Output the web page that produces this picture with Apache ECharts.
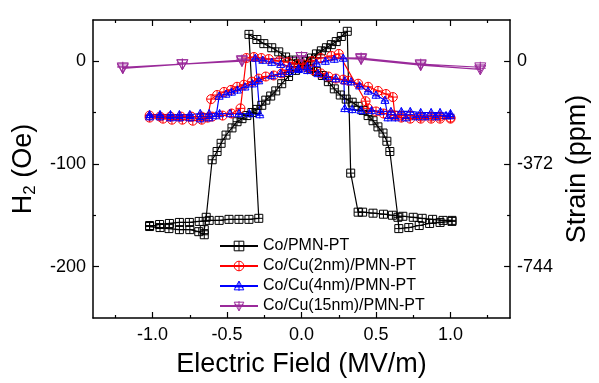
<!DOCTYPE html>
<html>
<head>
<meta charset="utf-8">
<script src="https://cdn.jsdelivr.net/npm/echarts@6/dist/echarts.min.js"></script>
<style>
  html, body { margin: 0; padding: 0; background: #fff; }
  #chart { width: 599px; height: 383px; }
</style>
</head>
<body>
<div id="chart"></div>
<script>
// H2 (Oe) against electric field (MV/m), in sweep order
const coE = [1.01, 0.95, 0.88, 0.81, 0.75, 0.68, 0.61, 0.55, 0.48, 0.41, 0.38, 0.33,
  0.307, 0.267, 0.233, 0.2, 0.167, 0.133, 0.1, 0.067, 0.033, 0, -0.04, -0.087, -0.133, -0.173, -0.207, -0.24, -0.267, -0.3, -0.333, -0.367, -0.4, -0.433, -0.467, -0.507, -0.54, -0.567, -0.6,
  -0.64, -0.653, -0.653, -0.69, -0.75, -0.82, -0.89, -0.95, -1.02,
  -1.02, -0.953, -0.887, -0.82, -0.753, -0.687, -0.62, -0.553, -0.487, -0.42, -0.353, -0.287,
  -0.353, -0.3, -0.253, -0.2, -0.153, -0.107, -0.06, -0.02, 0.02, 0.06, 0.1, 0.14, 0.18, 0.22, 0.26, 0.3, 0.34, 0.38, 0.413, 0.447, 0.48, 0.513, 0.547, 0.573, 0.593,
  0.647, 0.653, 0.72, 0.79, 0.86, 0.93, 1.01];
const coH = [-155, -155, -154, -153, -152, -151, -150, -149, -148, -147, -147, -109,
  29, 24, 19, 16, 13, 10, 7, 3, 0, -3, -9, -15, -22, -29, -34, -38, -43, -47, -50, -53, -56, -59, -65, -72, -80, -88, -96,
  -152, -164, -169, -166, -164, -164, -163, -162, -161,
  -160, -159, -158, -157, -157, -156, -155, -155, -154, -154, -154, -153,
  26, 21, 17, 13, 9, 4, 1, -2, -4, -7, -10, -14, -20, -27, -33, -37, -40, -44, -48, -53, -58, -64, -70, -78, -88,
  -152, -163, -162, -160, -158, -157, -156];

const cu2E = [1.0, 0.93, 0.87, 0.8, 0.73, 0.67, 0.6, 0.55, 0.5, 0.447, 0.43,
  0.25, 0.2, 0.13, 0.07, 0.01, -0.05, -0.1, -0.133, -0.187, -0.24, -0.287, -0.333, -0.387, -0.433, -0.473, -0.52, -0.567, -0.607,
  -0.63, -0.67, -0.73, -0.8, -0.87, -0.93, -1.02,
  -1.02, -0.95, -0.88, -0.81, -0.74, -0.67, -0.6, -0.53, -0.47, -0.41,
  -0.37, -0.32, -0.27, -0.22, -0.15, -0.09, -0.02, 0.03, 0.08, 0.13, 0.18, 0.23, 0.28, 0.313, 0.38, 0.447, 0.513, 0.567, 0.613,
  0.627, 0.67, 0.73, 0.8, 0.87, 0.93, 1.0];
const cu2H = [-55, -54, -54, -54, -53, -53, -52, -51, -49, -46, -39,
  7, 5, 3, 0, -3, -6, -9, -12, -14, -15, -17, -20, -23, -25, -28, -30, -33, -37,
  -55, -57, -58, -57, -57, -56, -55,
  -53, -54, -54, -54, -54, -54, -54, -53, -51, -46,
  3, 4, 3, 2, 0, -1, -3, -6, -9, -12, -15, -17, -18, -19, -22, -25, -29, -32, -35,
  -53, -55, -56, -56, -56, -56, -56];

const cu4E = [1.0, 0.93, 0.87, 0.8, 0.73, 0.67, 0.6, 0.53, 0.47, 0.4, 0.34, 0.29,
  0.28, 0.22, 0.16, 0.1, 0.04, -0.02, -0.08, -0.14, -0.2, -0.287, -0.33, -0.38, -0.43, -0.47, -0.507, -0.553,
  -0.573, -0.62, -0.68, -0.75, -0.82, -0.88, -0.95, -1.02,
  -1.02, -0.95, -0.88, -0.82, -0.75, -0.68, -0.62, -0.55, -0.48, -0.42, -0.35, -0.28,
  -0.31, -0.26, -0.2, -0.14, -0.08, -0.02, 0.04, 0.11, 0.17, 0.23, 0.29, 0.333, 0.39, 0.447, 0.5, 0.56,
  0.58, 0.63, 0.7, 0.77, 0.83, 0.9, 0.97, 1.0];
const cu4H = [-51, -50, -50, -50, -49, -49, -49, -49, -48, -48, -47, -46,
  3, 2, 0, -2, -5, -8, -10, -12, -14, -19, -22, -25, -28, -30, -32, -34,
  -53, -55, -56, -55, -55, -55, -54, -54,
  -52, -52, -52, -52, -52, -51, -51, -51, -51, -51, -51, -52,
  3, 1, -1, -3, -5, -7, -9, -12, -15, -17, -19, -20, -24, -29, -33, -38,
  -55, -55, -55, -54, -54, -54, -53, -53];

const cu15E = [-1.2, -0.8, -0.4, 0, 0.4, 0.8, 1.2, 1.2, 0.8, 0.4, 0, -0.4, -0.8, -1.2];
const cu15H = [-6, -3, 0, 4, 3, -3, -6, -8, -4, 2, 4, 1, -3, -7];

const seriesNames = ['Co/PMN-PT', 'Co/Cu(2nm)/PMN-PT', 'Co/Cu(4nm)/PMN-PT', 'Co/Cu(15nm)/PMN-PT'];
const seriesColors = ['#000000', '#ff0000', '#0000ff', '#9a2a9a'];

const xTicks = [-1.0, -0.5, 0, 0.5, 1.0];
const xMinorTicks = [-1.25, -0.75, -0.25, 0.25, 0.75, 1.25];
const leftTicks = [0, -100, -200];
const leftMinorTicks = [-50, -150];
const rightTicks = [0, -372, -744];
const rightMinorTicks = [-186, -558];

const font = 'Liberation Sans, Arial, sans-serif';

// hollow markers with a cross inside, like the origin plot
const SQUARE = 'path://M0,0L10,0L10,10L0,10Z M5,0L5,10 M0,5L10,5';
const CIRCLE = 'path://M0,5A5,5,0,1,1,10,5A5,5,0,1,1,0,5Z M5,0L5,10 M0,5L10,5';
const TRI = 'path://M5,0L10,9L0,9Z M5,0L5,10 M0,6L10,6';
const TRI_DOWN = 'path://M0,1L10,1L5,10Z M5,0L5,10 M0,4L10,4';

const pts = (e, h) => e.map((v, i) => [v, h[i]]);
const hollow = (c) => ({ color: 'rgba(0,0,0,0)', borderColor: c, borderWidth: 1 });

function line(name, data, color, symbol, size) {
  return {
    name,
    type: 'line',
    data,
    symbol,
    symbolSize: size,
    lineStyle: { color, width: 1.2 },
    itemStyle: hollow(color),
    emphasis: { disabled: true },
  };
}

function tickAxis(extra) {
  return Object.assign({
    type: 'value',
    axisLine: { show: false, onZero: false },
    axisLabel: { show: false },
    splitLine: { show: false },
  }, extra);
}

const chart = echarts.init(document.getElementById('chart'));
chart.setOption({
  animation: false,
  backgroundColor: '#fff',
  grid: { left: 93, right: 86, top: 20, bottom: 60 },
  legend: {
    orient: 'vertical',
    left: 219,
    top: 238,
    padding: 0,
    itemWidth: 38,
    itemHeight: 12,
    itemGap: 4,
    textStyle: { fontSize: 16, fontFamily: font, color: '#000' },
    data: seriesNames.map((n, i) => ({ name: n, itemStyle: hollow(seriesColors[i]) })),
  },
  xAxis: [
    {
      type: 'value', position: 'bottom', min: -1.4, max: 1.4,
      name: 'Electric Field (MV/m)', nameLocation: 'middle', nameGap: 33,
      nameTextStyle: { fontSize: 27, fontFamily: font, color: '#000' },
      axisLine: { onZero: false, lineStyle: { color: '#000', width: 1.5 } },
      axisTick: { inside: true, length: 6, customValues: xTicks, lineStyle: { color: '#000', width: 1.2 } },
      axisLabel: { customValues: xTicks, formatter: (v) => v.toFixed(1), fontSize: 18, fontFamily: font, color: '#000', margin: 8 },
      splitLine: { show: false },
    },
    tickAxis({ position: 'bottom', min: -1.4, max: 1.4,
      axisTick: { inside: true, length: 3, customValues: xMinorTicks, lineStyle: { color: '#000', width: 1.2 } } }),
    tickAxis({ position: 'top', min: -1.4, max: 1.4,
      axisLine: { show: true, onZero: false, lineStyle: { color: '#000', width: 1.5 } },
      axisTick: { inside: true, length: 6, customValues: xTicks, lineStyle: { color: '#000', width: 1.2 } } }),
    tickAxis({ position: 'top', min: -1.4, max: 1.4,
      axisTick: { inside: true, length: 3, customValues: xMinorTicks, lineStyle: { color: '#000', width: 1.2 } } }),
  ],
  yAxis: [
    {
      type: 'value', position: 'left', min: -250, max: 40,
      name: '{a|H}{s|2}{a| (Oe)}', nameLocation: 'middle', nameGap: 35, nameRotate: 90,
      nameTextStyle: {
        color: '#000', fontFamily: font,
        rich: { a: { fontSize: 27, fontFamily: font }, s: { fontSize: 17, fontFamily: font, padding: [14, 0, 0, 0] } },
      },
      axisLine: { onZero: false, lineStyle: { color: '#000', width: 1.5 } },
      axisTick: { inside: true, length: 6, customValues: leftTicks, lineStyle: { color: '#000', width: 1.2 } },
      axisLabel: { customValues: leftTicks, fontSize: 18, fontFamily: font, color: '#000', margin: 7 },
      splitLine: { show: false },
    },
    tickAxis({ position: 'left', min: -250, max: 40,
      axisTick: { inside: true, length: 3, customValues: leftMinorTicks, lineStyle: { color: '#000', width: 1.2 } } }),
    {
      type: 'value', position: 'right', min: -930, max: 148.8,
      name: 'Strain (ppm)', nameLocation: 'middle', nameGap: 52, nameRotate: 90,
      nameTextStyle: { fontSize: 27, fontFamily: font, color: '#000' },
      axisLine: { show: true, onZero: false, lineStyle: { color: '#000', width: 1.5 } },
      axisTick: { show: true, inside: true, length: 6, customValues: rightTicks, lineStyle: { color: '#000', width: 1.2 } },
      axisLabel: { customValues: rightTicks, fontSize: 18, fontFamily: font, color: '#000', margin: 7 },
      splitLine: { show: false },
    },
    tickAxis({ position: 'right', min: -930, max: 148.8,
      axisTick: { show: true, inside: true, length: 3, customValues: rightMinorTicks, lineStyle: { color: '#000', width: 1.2 } } }),
  ],
  series: [
    line(seriesNames[0], pts(coE, coH), seriesColors[0], SQUARE, 8),
    line(seriesNames[1], pts(cu2E, cu2H), seriesColors[1], CIRCLE, 9),
    line(seriesNames[2], pts(cu4E, cu4H), seriesColors[2], TRI, 8),
    line(seriesNames[3], pts(cu15E, cu15H), seriesColors[3], TRI_DOWN, 11),
  ],
});
</script>
</body>
</html>
